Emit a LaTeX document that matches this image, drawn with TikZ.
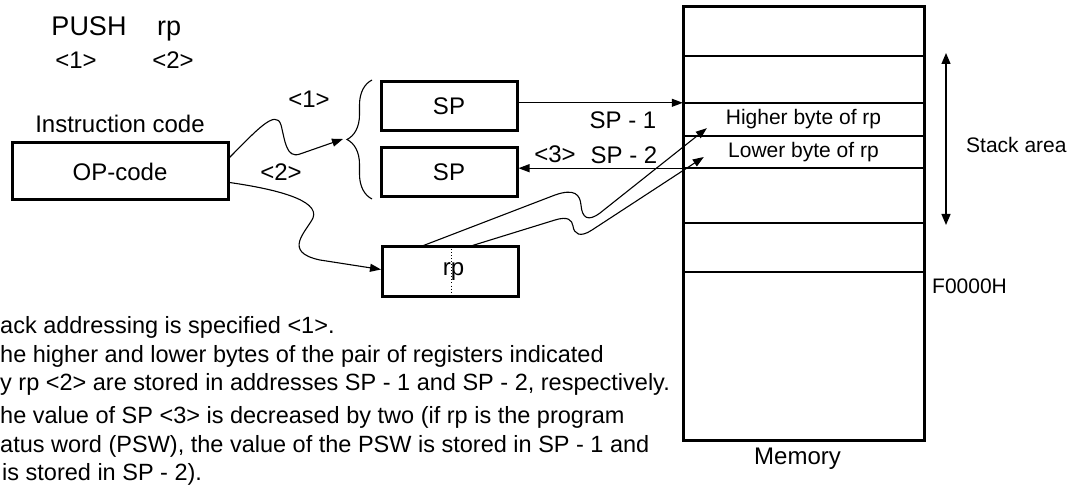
\documentclass[tikz,border=0pt]{standalone}
\usepackage{fontspec}
\setmainfont{Liberation Sans}
\usetikzlibrary{positioning, arrows.meta, decorations.pathreplacing}

\begin{document}
\begin{tikzpicture}[
  x=1pt, y=-1pt,
  every node/.style={inner sep=0pt, font=\fontsize{24}{28}\selectfont},
  register/.style={draw, line width=3pt, minimum width=136pt, minimum height=49pt},
  cell/.style={minimum width=241pt, font=\fontsize{21}{25}\selectfont},
  small/.style={font=\fontsize{21}{25}\selectfont},
  note/.style={anchor=base west, font=\fontsize{23.5}{28}\selectfont},
  arrow/.style={-{Triangle[length=11pt, width=8pt]}, line width=1.1pt},
  wire/.style={line width=1.1pt}
]
\useasboundingbox (0,0) rectangle (1073,486);

% Instruction
\node[anchor=base, font=\fontsize{27}{32}\selectfont] (push) at (89,36) {PUSH};
\node[anchor=base west, font=\fontsize{27}{32}\selectfont] (operand) at (157,36) {rp};
\node[anchor=base] (n1) at (76,69) {<1>};
\node[anchor=base] (n2) at (173,69) {<2>};

% Instruction code
\node[register, minimum width=216pt, minimum height=57pt] (opcode) at (120,171.5) {OP-code};
\node[above=9pt of opcode] (inscode) {Instruction code};

% Registers
\node[register] (sp1) at (449,106.5) {SP};
\node[register, below=14pt of sp1] (sp2) {SP};
\node[register] (rp) at (450.5,271.5) {\hspace*{6pt}rp};
\draw[dotted, line width=1pt] ([xshift=0.5pt, yshift=-4pt]rp.north) -- ([xshift=0.5pt, yshift=4pt]rp.south);

% Brace
\coordinate (bracetop) at (372,80);
\coordinate (bracebot) at (372,199);
\coordinate (bracetip) at (343,139);
\draw[wire, decorate, decoration={brace, amplitude=25pt}] (bracebot) -- (bracetop);

% Memory
\node[draw, line width=3pt, outer sep=0pt, minimum width=241pt, minimum height=433pt] (mem) at (803.5,223.5) {};
\foreach \y in {56,103,168,223,272}
  \draw[line width=1.5pt] (683,\y) -- (924,\y);
\draw[line width=2.5pt] (683,136) -- (924,136);
\node[cell, minimum height=33pt] (hi) at (803.5,119.5) {Higher byte of rp};
\node[cell, minimum height=32pt] (lo) at (803.5,152) {Lower byte of rp};
\node[below=8pt of mem, xshift=-6pt] (memlabel) {Memory};

% Stack area
\coordinate (stacktop) at (946,53);
\coordinate (stackbot) at (946,225);
\draw[{Triangle[length=11pt, width=9pt]}-{Triangle[length=11pt, width=9pt]}, line width=1.3pt] (stacktop) -- (stackbot);
\node[small, anchor=west] (stack) at (966,145) {Stack area};
\node[small, anchor=west] (base) at (932,286) {F0000H};

% Labels
\node (l1) at (309,99) {<1>};
\node (l2) at (281,172) {<2>};
\node (l3) at (555,154) {<3>};
\node (spm1) at (623,120) {SP - 1};
\node (spm2) at (624,155) {SP - 2};

% Connections
\draw[arrow] ([yshift=14pt]opcode.east) .. controls (255,132) and (276,108) .. (281,125)
  .. controls (285,140) and (286,159) .. (300,154) -- (bracetip);
\draw[arrow] ([yshift=-11pt]opcode.east) .. controls (275,189) and (320,200) .. (313,218)
  .. controls (306,232) and (282,252) .. (320,260) -- ([yshift=2pt]rp.west);
\draw[arrow] (sp1.east |- hi.north) -- (hi.north west);
\draw[arrow] (lo.south west) -- (lo.south west -| sp2.east);
\draw[arrow] ([xshift=-27pt]rp.north) -- (555,195) .. controls (575,188) and (580,195) .. (581,205)
  .. controls (582,218) and (588,222) .. (600,213) -- ([shift={(24pt,8pt)}]hi.south west);
\draw[arrow] ([xshift=22pt]rp.north) -- (555,220) .. controls (568,216) and (572,220) .. (573,226)
  .. controls (574,234) and (580,238) .. (592,230) -- ([shift={(21pt,-5pt)}]lo.west);

% Notes
\node[note] (note1) at (0,333) {ack addressing is specified <1>.};
\node[note] (note2) at (0,362) {he higher and lower bytes of the pair of registers indicated};
\node[note] (note3) at (0,390) {y rp <2> are stored in addresses SP - 1 and SP - 2, respectively.};
\node[note] (note4) at (0,423) {he value of SP <3> is decreased by two (if rp is the program};
\node[note] (note5) at (0,452) {atus word (PSW), the value of the PSW is stored in SP - 1 and};
\node[note] (note6) at (2,480) {is stored in SP - 2).};

\end{tikzpicture}
\end{document}
